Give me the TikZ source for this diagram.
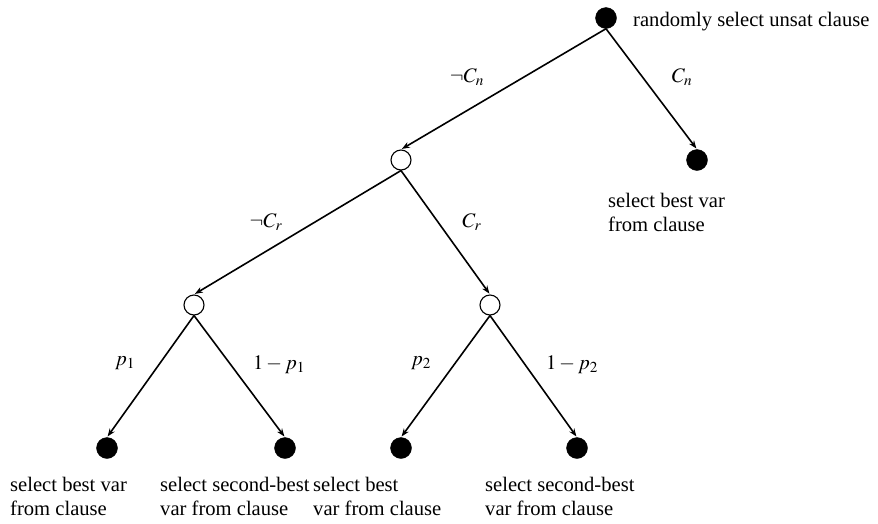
\documentclass[tikz,border=0pt]{standalone}
\usepackage{mathptmx}
\usepackage[no-math]{fontspec}
\setmainfont{Liberation Serif}
\usetikzlibrary{arrows.meta}

\begin{document}
\begin{tikzpicture}[x=1pt,y=-1pt,
  every node/.style={font=\fontsize{20.6}{24}\selectfont},
  solid dot/.style={circle,fill=black,draw=black,minimum size=21pt,inner sep=0pt},
  open dot/.style={circle,fill=white,draw=black,line width=1.1pt,minimum size=20pt,inner sep=0pt},
  branch/.style={line width=1.6pt,-{Stealth[length=8pt,width=6pt]},shorten >=1pt},
  lbl/.style={inner sep=0pt},
  caption/.style={align=left,anchor=north west,inner sep=0pt}]

  \useasboundingbox (0,0) rectangle (878,523);

  % decision points
  \node[solid dot] (root) at (606,18) {};
  \node[open dot]  (a)    at (401,160) {};
  \node[solid dot] (b)    at (697,160) {};
  \node[open dot]  (c)    at (194,305) {};
  \node[open dot]  (d)    at (490,305) {};
  \node[solid dot] (l1)   at (107,448) {};
  \node[solid dot] (l2)   at (285,448) {};
  \node[solid dot] (l3)   at (401,448) {};
  \node[solid dot] (l4)   at (577,448) {};

  % branches
  \draw[branch] (root.south) -- (a.north);
  \draw[branch] (root.south) -- (b.north);
  \draw[branch] (a.south) -- (c.north);
  \draw[branch] (a.south) -- (d.north);
  \draw[branch] (c.south) -- (l1.north);
  \draw[branch] (c.south) -- (l2.north);
  \draw[branch] (d.south) -- (l3.north);
  \draw[branch] (d.south) -- (l4.north);

  % branch labels
  \node[lbl] (tn) at (467,77) {$\neg C_n$};
  \node[lbl] (tc) at (682,77) {$C_n$};
  \node[lbl] (rn) at (266,222) {$\neg C_r$};
  \node[lbl] (rc) at (472,222) {$C_r$};
  \node[lbl] (p1) at (125,363) {$p_1$};
  \node[lbl] (q1) at (279,365) {$1-p_1$};
  \node[lbl] (p2) at (421,363) {$p_2$};
  \node[lbl] (q2) at (572,365) {$1-p_2$};

  % actions
  \node[lbl,anchor=base west] (troot) at (633,26) {randomly select unsat clause};
  \node[caption] (tb)  at (608,193) {select best var\\from clause};
  \node[caption] (t1)  at (10,477)  {select best var\\from clause};
  \node[caption] (t2)  at (160,477) {select second-best\\var from clause};
  \node[caption] (t3)  at (313,477) {select best\\var from clause};
  \node[caption] (t4)  at (485,477) {select second-best\\var from clause};
\end{tikzpicture}
\end{document}
